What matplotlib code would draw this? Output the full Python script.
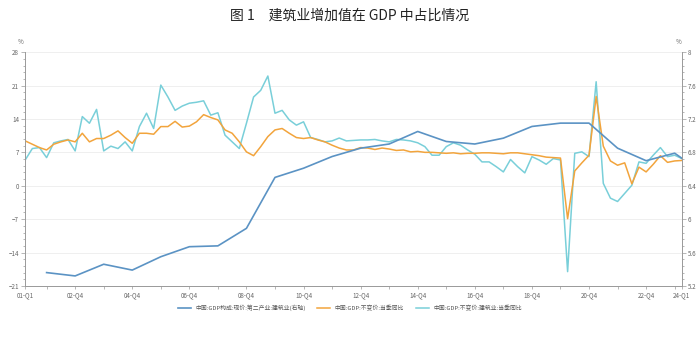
import numpy as np
import matplotlib
matplotlib.use("Agg")
import matplotlib.pyplot as plt
from matplotlib.ticker import MultipleLocator, FixedLocator

plt.rcParams['font.family'] = ['Noto Sans CJK SC', 'DejaVu Sans']

# quarter categories 01-Q1 .. 24-Q1
quarters = [f"{y:02d}-Q{q}" for y in range(1, 25) for q in range(1, 5)][:93]

# 中国:GDP:不变价:当季同比 (%)
gdp_yoy = [9.4, 8.7, 8.0, 7.5, 8.7, 9.2, 9.6, 9.2, 11.0, 9.2, 9.9, 9.9,
           10.6, 11.5, 10.1, 8.9, 11.0, 11.0, 10.8, 12.4, 12.4, 13.5, 12.3, 12.5,
           13.4, 14.9, 14.3, 13.8, 11.7, 11.0, 9.2, 7.1, 6.3, 8.2, 10.3, 11.7,
           12.0, 11.0, 10.1, 9.9, 10.1, 9.6, 9.2, 8.5, 7.9, 7.5,
           7.5, 8.0, 7.9, 7.6, 7.9, 7.7, 7.4, 7.5, 7.1, 7.2, 7.0, 7.0,
           6.9, 6.8, 6.9, 6.7, 6.8, 6.8, 6.9, 6.9, 6.8, 6.7, 6.9, 6.9,
           6.7, 6.5, 6.3, 6.0, 5.9, 5.8,
           -6.9, 3.1, 4.8, 6.4, 18.7, 8.3, 5.2, 4.3, 4.8, 0.4, 3.9, 2.9,
           4.5, 6.3, 4.9, 5.2, 5.3]

# 中国:GDP:不变价:建筑业:当季同比 (%)
build_yoy = [5.4, 7.8, 8.0, 5.9, 9.0, 9.4, 9.7, 7.3, 14.5, 13.1, 16.0, 7.3,
             8.3, 7.8, 9.2, 7.3, 12.4, 15.2, 12.0, 21.1, 18.6, 15.8, 16.7, 17.3,
             17.5, 17.8, 14.8, 15.3, 10.6, 9.2, 7.8, 13.1, 18.6, 20.0, 23.0, 15.2,
             15.8, 13.8, 12.7, 13.4, 10.1, 9.7, 9.2, 9.4, 10.0, 9.4,
             9.5, 9.6, 9.6, 9.7, 9.4, 9.2, 9.7, 9.6, 9.4, 9.0, 8.2, 6.4,
             6.4, 8.2, 9.0, 8.5, 7.5, 6.6, 5.0, 5.0, 4.0,
             2.9, 5.5, 4.0, 2.7, 6.1, 5.4, 4.5, 5.7, 5.4, -18.0, 6.8, 7.1,
             6.1, 21.8, 0.5, -2.6, -3.3, -1.6, 0.1, 5.0, 4.7, 6.4, 8.0, 6.1,
             6.4, 5.7]

# 中国:GDP构成:现价:第二产业:建筑业 (%, right axis, annual)
share_quarters = ["01-Q4", "02-Q4", "03-Q4", "04-Q4", "05-Q4", "06-Q4", "07-Q4",
                  "08-Q4", "09-Q4", "10-Q4", "11-Q4", "12-Q4", "13-Q4", "14-Q4",
                  "15-Q4", "16-Q4", "17-Q4", "18-Q4", "19-Q4", "20-Q4", "21-Q4",
                  "22-Q4", "23-Q4", "24-Q1"]
share = [5.36, 5.32, 5.46, 5.39, 5.55, 5.67, 5.68, 5.89, 6.50, 6.61, 6.75,
         6.85, 6.90, 7.05, 6.93, 6.90, 6.97, 7.11, 7.15, 7.15, 6.85, 6.70,
         6.79, 6.73]

tick_labels = ["01-Q1", "02-Q4", "04-Q4", "06-Q4", "08-Q4", "10-Q4", "12-Q4",
               "14-Q4", "16-Q4", "18-Q4", "20-Q4", "22-Q4", "24-Q1"]

labels = ["中国:GDP构成:现价:第二产业:建筑业(右轴)",
          "中国:GDP:不变价:当季同比",
          "中国:GDP:不变价:建筑业:当季同比"]

c_blue = "#5b93c4"
c_orange = "#f2a43c"
c_cyan = "#79cfd9"
grey = "#9a9a9a"

fig = plt.figure(figsize=(7, 3.5), dpi=100)
ax = fig.add_axes([0.036, 0.183, 0.938, 0.668])
ax2 = ax.twinx()

x = np.arange(len(quarters))
xs = [quarters.index(q) for q in share_quarters]

l2, = ax.plot(x, gdp_yoy, color=c_orange, lw=1.1, zorder=3)
l3, = ax.plot(x, build_yoy, color=c_cyan, lw=1.1, zorder=2)
l1, = ax2.plot(xs, share, color=c_blue, lw=1.2, zorder=4)

ax.set_xlim(0, len(quarters) - 1)
ax.set_ylim(-21, 28)
ax2.set_ylim(5.2, 8.0)

ax.yaxis.set_major_locator(MultipleLocator(7))
ax.yaxis.set_minor_locator(MultipleLocator(1.4))
ax2.yaxis.set_major_locator(MultipleLocator(0.4))
ax2.yaxis.set_minor_locator(MultipleLocator(0.08))
ax2.set_yticks(np.arange(5.2, 8.01, 0.4))
ax2.set_yticklabels([f"{v:g}" for v in np.round(np.arange(5.2, 8.01, 0.4), 1)])

ax.set_xticks([quarters.index(t) for t in tick_labels])
ax.set_xticklabels(tick_labels)
ax.xaxis.set_minor_locator(FixedLocator([quarters.index(q) for q in share_quarters]))

ax.grid(axis='y', color="#ececec", lw=0.6)
ax.set_axisbelow(True)

for a in (ax, ax2):
    for s in a.spines.values():
        s.set_color(grey)
        s.set_linewidth(0.6)
    a.spines['top'].set_visible(False)
    a.tick_params(which='both', colors=grey, labelcolor="#666666", labelsize=4.5,
                  width=0.5)
    a.tick_params(which='major', length=3, pad=1.5)
    a.tick_params(which='minor', length=1.5)
ax.tick_params(axis='x', which='both', length=2)

fig.text(0.029, 0.873, "%", fontsize=4.5, color="#666666", ha='center')
fig.text(0.969, 0.873, "%", fontsize=4.5, color="#666666", ha='center')

fig.text(0.5, 0.955, "图 1　建筑业增加值在 GDP 中占比情况", ha='center', va='center',
         fontsize=10, color="#222222")

fig.legend([l1, l2, l3], labels, loc='center', bbox_to_anchor=(0.5, 0.12),
           ncol=3, frameon=False, fontsize=4.2, handlelength=2.2,
           columnspacing=2.0, labelcolor="#555555")

fig.savefig("out.png", dpi=100)
